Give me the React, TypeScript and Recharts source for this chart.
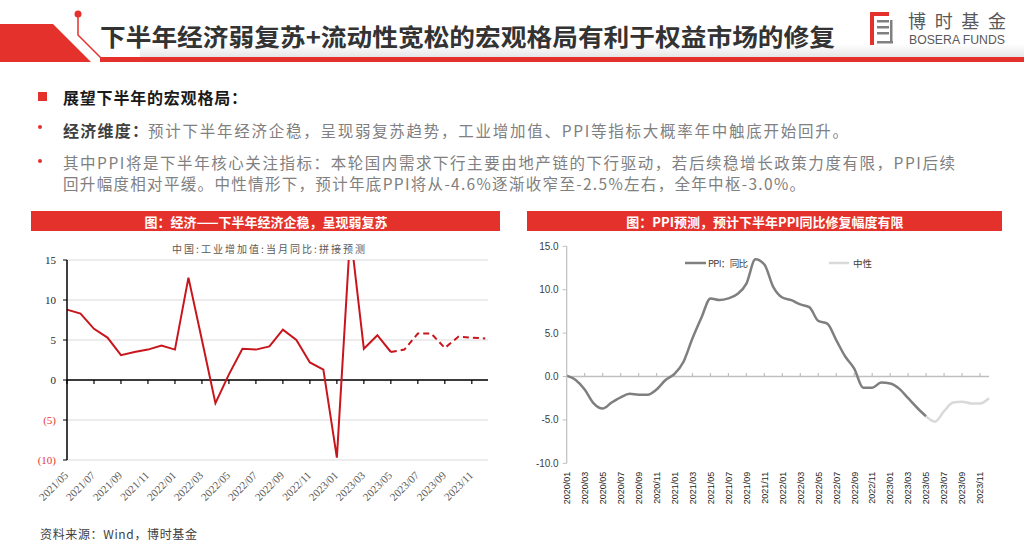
import React from "react";
import { CartesianGrid, Line, LineChart, ReferenceLine, XAxis, YAxis } from "recharts";

const SANS = '"Noto Sans CJK SC", "Noto Sans", sans-serif';
const SERIF = '"Liberation Serif", "DejaVu Serif", serif';
const ARIAL = '"Liberation Sans", Arial, sans-serif';
const RED = "#e5312b";

// 左图：中国工业增加值当月同比（2021/05 - 2023/12，2023/05 之后为预测）
const ipTickLabels = [
  "2021/05", "2021/07", "2021/09", "2021/11", "2022/01", "2022/03", "2022/05", "2022/07",
  "2022/09", "2022/11", "2023/01", "2023/03", "2023/05", "2023/07", "2023/09", "2023/11",
];
const ipActual = [
  8.8, 8.3, 6.4, 5.3, 3.1, 3.5, 3.8, 4.3,
  3.8, 12.8, 5.0, -2.9, 0.7, 3.9, 3.8, 4.2, 6.3, 5.0, 2.2, 1.3,
  -9.7, 18.5, 3.9, 5.6, 3.5,
];
const ipForecast = [3.5, 3.8, 5.8, 5.8, 4.0, 5.4, 5.3, 5.2];
const ipForecastStart = ipActual.length - 1;

// 右图：PPI 同比（2020/01 - 2023/12，2023/05 之后为中性情形）
const ppiTickLabels = [
  "2020/01", "2020/03", "2020/05", "2020/07", "2020/09", "2020/11",
  "2021/01", "2021/03", "2021/05", "2021/07", "2021/09", "2021/11",
  "2022/01", "2022/03", "2022/05", "2022/07", "2022/09", "2022/11",
  "2023/01", "2023/03", "2023/05", "2023/07", "2023/09", "2023/11",
];
const ppiActual = [
  0.1, -0.4, -1.5, -3.1, -3.7, -3.0, -2.4, -2.0, -2.1, -2.1, -1.5, -0.4,
  0.3, 1.7, 4.4, 6.8, 9.0, 8.8, 9.0, 9.5, 10.7, 13.5, 12.9, 10.3,
  9.1, 8.8, 8.3, 8.0, 6.4, 6.1, 4.2, 2.3, 0.9, -1.3, -1.3, -0.7,
  -0.8, -1.4, -2.5, -3.6, -4.6,
];
const ppiNeutral = [-4.6, -5.2, -4.0, -3.0, -2.9, -3.1, -3.1, -2.5];
const ppiNeutralStart = ppiActual.length - 1;

const yTicks = [-10, -5, 0, 5, 10, 15];

const ipData = Array.from({ length: ipForecastStart + ipForecast.length }, (_, i) => ({
  i,
  actual: i < ipActual.length ? ipActual[i] : null,
  forecast: i >= ipForecastStart ? ipForecast[i - ipForecastStart] : null,
}));

const ppiData = Array.from({ length: ppiNeutralStart + ppiNeutral.length }, (_, i) => ({
  i,
  ppi: i < ppiActual.length ? ppiActual[i] : null,
  neutral: i >= ppiNeutralStart ? ppiNeutral[i - ppiNeutralStart] : null,
}));

const ipXTicks = ipTickLabels.map((_, k) => k * 2);
const ppiXTicks = ppiTickLabels.map((_, k) => k * 2);

const IpYTick = ({ x, y, payload }: any) => {
  const v = payload.value;
  return (
    <text x={x} y={y} dy={4} textAnchor="end" fontSize={11} fontFamily={SERIF} fill={v < 0 ? "#e53935" : "#262626"}>
      {v < 0 ? `(${-v})` : v}
    </text>
  );
};

const IpXTick = ({ x, y, payload }: any) => {
  const ax = x + 2;
  const ay = y + 16;
  return (
    <text x={ax} y={ay} transform={`rotate(-45 ${ax} ${ay})`} textAnchor="end" fontSize={11} fontFamily={SERIF} fill="#595959">
      {ipTickLabels[payload.value / 2]}
    </text>
  );
};

const PpiXTick = ({ x, y, payload }: any) => {
  const ax = x + 3.3;
  const ay = y + 8.5;
  return (
    <text x={ax} y={ay} transform={`rotate(-90 ${ax} ${ay})`} textAnchor="end" fontSize={9} fontFamily={ARIAL} fill="#262626">
      {ppiTickLabels[payload.value / 2]}
    </text>
  );
};

const Overlay = () => (
  <svg width={1024} height={549} style={{ position: "absolute", left: 0, top: 0 }}>
    <defs>
      <linearGradient id="shadow" x1="0" y1="0" x2="0" y2="1">
        <stop offset="0" stopColor="#ffffff" />
        <stop offset="1" stopColor="#e6e6e6" />
      </linearGradient>
    </defs>
    {/* 顶部标题栏 */}
    <rect x={140} y={44} width={884} height={13} fill="url(#shadow)" />
    <polygon points="0,24 53,24 91,62 0,62" fill={RED} />
    <polyline points="78,14 78,35 102,59" fill="none" stroke={RED} strokeWidth={1.5} />
    <circle cx={78} cy={14} r={3.5} fill={RED} />
    <rect x={100} y={57} width={924} height={5} fill={RED} />
    <text x={100} y={35} dominantBaseline="central" fontSize={24} fontWeight={700} fontFamily={SANS} fill="#333" textLength={735} lengthAdjust="spacingAndGlyphs">
      下半年经济弱复苏+流动性宽松的宏观格局有利于权益市场的修复
    </text>
    {/* logo */}
    <rect x={870} y={12} width={4} height={33} fill={RED} />
    <rect x={870} y={12} width={19} height={4} fill={RED} />
    <rect x={877} y={20} width={12} height={2.5} fill="#808080" />
    <rect x={877} y={26} width={12} height={2.5} fill="#808080" />
    <rect x={877} y={32} width={12} height={2.5} fill="#808080" />
    <rect x={877} y={41} width={16} height={2.5} fill="#808080" />
    <rect x={890} y={20} width={2.5} height={23} fill="#808080" />
    <text x={908} y={19.5} dominantBaseline="central" fontSize={18} fontFamily={SANS} fill="#595959" textLength={98}>博时基金</text>
    <text x={909} y={39.5} dominantBaseline="central" fontSize={12} fontFamily={ARIAL} fill="#595959" textLength={96} lengthAdjust="spacingAndGlyphs">BOSERA FUNDS</text>

    {/* 正文 */}
    <rect x={38} y={92} width={9} height={9} fill={RED} />
    <text x={63} y={97} dominantBaseline="central" fontSize={16} fontWeight={700} fontFamily={SANS} fill="#1a1a1a" textLength={184}>展望下半年的宏观格局：</text>
    <circle cx={40} cy={127} r={2} fill={RED} />
    <text x={63} y={130} dominantBaseline="central" fontSize={16} fontWeight={700} fontFamily={SANS} fill="#404040" textLength={85}>经济维度：</text>
    <text x={148} y={130} dominantBaseline="central" fontSize={15.5} fontFamily={SANS} fill="#808080" textLength={700}>
      预计下半年经济企稳，呈现弱复苏趋势，工业增加值、PPI等指标大概率年中触底开始回升。
    </text>
    <circle cx={40} cy={161} r={2} fill={RED} />
    <text x={63} y={162} dominantBaseline="central" fontSize={15.5} fontFamily={SANS} fill="#808080" textLength={892}>
      其中PPI将是下半年核心关注指标：本轮国内需求下行主要由地产链的下行驱动，若后续稳增长政策力度有限，PPI后续
    </text>
    <text x={63} y={183} dominantBaseline="central" fontSize={15.5} fontFamily={SANS} fill="#808080" textLength={742}>
      回升幅度相对平缓。中性情形下，预计年底PPI将从-4.6%逐渐收窄至-2.5%左右，全年中枢-3.0%。
    </text>

    {/* 图表标题栏 */}
    <rect x={31} y={211} width={469} height={20} fill={RED} />
    <text x={266} y={221} textAnchor="middle" dominantBaseline="central" fontSize={13} fontWeight={700} fontFamily={SANS} fill="#fff">
      图：经济——下半年经济企稳，呈现弱复苏
    </text>
    <rect x={527} y={211} width={475} height={20} fill={RED} />
    <text x={765} y={221} textAnchor="middle" dominantBaseline="central" fontSize={13} fontWeight={700} fontFamily={SANS} fill="#fff">
      图：PPI预测，预计下半年PPI同比修复幅度有限
    </text>

    <text x={172} y={248} dominantBaseline="central" fontSize={10} fontFamily={SANS} fill="#595959" textLength={193}>
      中国:工业增加值:当月同比:拼接预测
    </text>

    {/* 右图图例 */}
    <line x1={685} y1={263} x2={706} y2={263} stroke="#7f7f7f" strokeWidth={2.5} />
    <text x={708} y={263} dominantBaseline="central" fontSize={9.5} fontFamily={SANS} fill="#404040" textLength={40}>PPI：同比</text>
    <line x1={829} y1={263} x2={849} y2={263} stroke="#d9d9d9" strokeWidth={2.5} />
    <text x={853} y={263} dominantBaseline="central" fontSize={9.5} fontFamily={SANS} fill="#404040">中性</text>

    <text x={40} y={533} dominantBaseline="central" fontSize={12} fontFamily={SANS} fill="#404040" textLength={157}>资料来源：Wind，博时基金</text>
  </svg>
);

const IndustryChart = () => (
  <div style={{ position: "absolute", left: 20, top: 240 }}>
    <LineChart width={490} height={290} data={ipData} margin={{ top: 20, right: 22, bottom: 10, left: 7 }}>
      <CartesianGrid vertical={false} stroke="#d9d9d9" strokeWidth={1.2} />
      <XAxis
        dataKey="i"
        type="number"
        domain={[0, 31.2]}
        ticks={ipXTicks}
        interval={0}
        height={60}
        axisLine={false}
        tickLine={false}
        tickSize={0}
        tickMargin={0}
        tick={<IpXTick />}
      />
      <YAxis
        type="number"
        domain={[-10, 15]}
        ticks={yTicks}
        allowDataOverflow
        width={40}
        axisLine={{ stroke: "#000", strokeWidth: 1.5 }}
        tickLine={{ stroke: "#000" }}
        tickSize={4}
        tickMargin={7}
        tick={<IpYTick />}
      />
      <ReferenceLine y={0} stroke="#000" strokeWidth={1.5} />
      {ipXTicks.map((t) => (
        <ReferenceLine key={t} segment={[{ x: t, y: 0 }, { x: t, y: -0.5 }]} stroke="#000" strokeWidth={1.2} />
      ))}
      <Line dataKey="actual" type="linear" stroke="#c8161d" strokeWidth={2} dot={false} isAnimationActive={false} />
      <Line dataKey="forecast" type="linear" stroke="#c8161d" strokeWidth={2} strokeDasharray="6 4" dot={false} isAnimationActive={false} />
    </LineChart>
  </div>
);

const PpiChart = () => (
  <div style={{ position: "absolute", left: 510, top: 236 }}>
    <LineChart width={500} height={300} data={ppiData} margin={{ top: 10.3, right: 21, bottom: 12.7, left: 16.7 }}>
      <XAxis
        dataKey="i"
        type="number"
        domain={[0, 47]}
        ticks={ppiXTicks}
        interval={0}
        height={60}
        axisLine={false}
        tickLine={false}
        tickSize={0}
        tickMargin={0}
        tick={<PpiXTick />}
      />
      <YAxis
        type="number"
        domain={[-10, 15]}
        ticks={yTicks}
        width={40}
        axisLine={{ stroke: "#bfbfbf", strokeWidth: 1.2 }}
        tickLine={{ stroke: "#bfbfbf" }}
        tickSize={4}
        tickMargin={4}
        tickFormatter={(v: number) => v.toFixed(1)}
        tick={{ fontSize: 10, fill: "#404040", fontFamily: ARIAL }}
      />
      <ReferenceLine y={0} stroke="#bfbfbf" strokeWidth={1.5} />
      {ppiXTicks.slice(1).map((t) => (
        <ReferenceLine key={t} segment={[{ x: t, y: 0 }, { x: t, y: 0.4 }]} stroke="#bfbfbf" strokeWidth={1.2} />
      ))}
      <Line dataKey="ppi" type="monotone" stroke="#7f7f7f" strokeWidth={2.5} dot={false} isAnimationActive={false} />
      <Line dataKey="neutral" type="monotone" stroke="#d9d9d9" strokeWidth={2.5} dot={false} isAnimationActive={false} />
    </LineChart>
  </div>
);

export default function App() {
  return (
    <div style={{ position: "absolute", left: 0, top: 0, width: 1024, height: 549, background: "#fff", overflow: "hidden", fontFamily: SANS }}>
      <Overlay />
      <IndustryChart />
      <PpiChart />
    </div>
  );
}
